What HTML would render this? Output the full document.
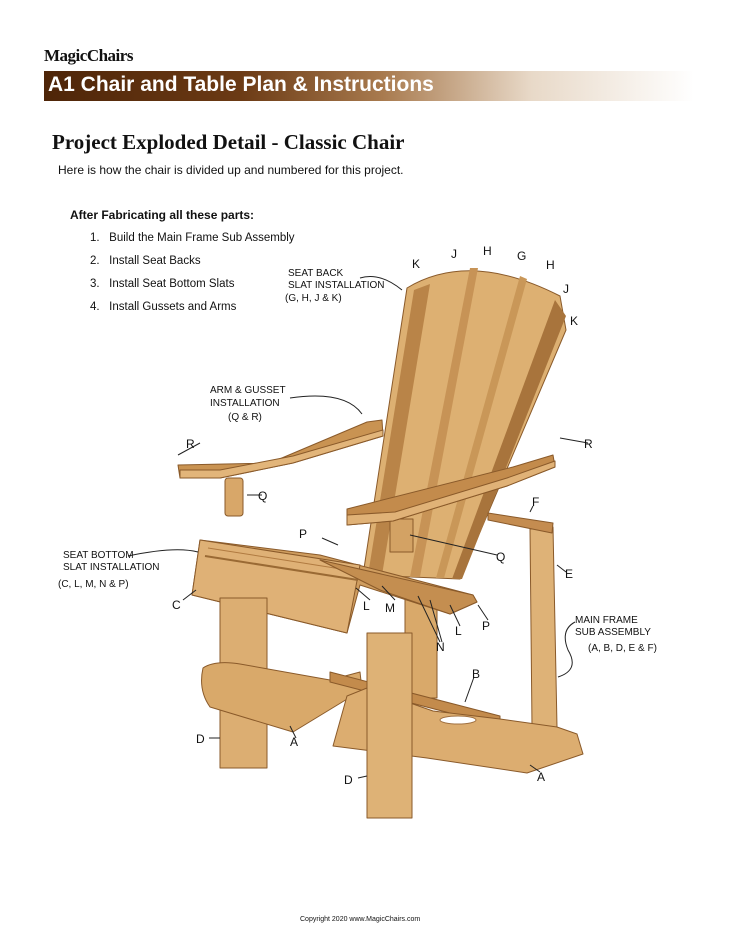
<!DOCTYPE html>
<html><head><meta charset="utf-8"><style>
body{margin:0;background:#fff;width:735px;height:952px;overflow:hidden;position:relative;font-family:"Liberation Sans",Arial,sans-serif}
.t{position:absolute;white-space:nowrap;color:#111}
</style></head><body>
<div class="t" style="left:44px;top:46px;font-family:'Liberation Serif',serif;font-weight:bold;font-size:17px;letter-spacing:-0.5px">MagicChairs</div>
<div style="position:absolute;left:44px;top:71px;width:650px;height:30px;background:linear-gradient(90deg,#4e2508 0%,#6b3a14 30%,#a87a4e 52%,#e8d9c8 75%,#fff 100%)"></div>
<div class="t" style="left:48px;top:73px;font-size:21px;color:#fff;font-weight:bold">A1 Chair and Table Plan &amp; Instructions</div>
<div class="t" style="left:52px;top:130px;font-family:'Liberation Serif',serif;font-weight:bold;font-size:21px">Project Exploded Detail - Classic Chair</div>
<div class="t" style="left:58px;top:163px;font-size:12px">Here is how the chair is divided up and numbered for this project.</div>
<div class="t" style="left:70px;top:208px;font-size:12px;font-weight:bold">After Fabricating all these parts:</div>
<div class="t" style="left:90px;top:232px;font-size:11.5px">1.&nbsp;&nbsp;&nbsp;Build the Main Frame Sub Assembly</div>
<div class="t" style="left:90px;top:255px;font-size:11.5px">2.&nbsp;&nbsp;&nbsp;Install Seat Backs</div>
<div class="t" style="left:90px;top:278px;font-size:11.5px">3.&nbsp;&nbsp;&nbsp;Install Seat Bottom Slats</div>
<div class="t" style="left:90px;top:301px;font-size:11.5px">4.&nbsp;&nbsp;&nbsp;Install Gussets and Arms</div>

<svg width="735" height="952" style="position:absolute;left:0;top:0" xmlns="http://www.w3.org/2000/svg">
<g stroke="#8a5a2a" stroke-width="1" stroke-linejoin="round">
<!-- back slats -->
<path d="M407,288 Q470,250 560,296 L566,330 L460,579 L363,575 Z" fill="#ddb072"/>
<path d="M414,290 L430,284 L382,575 L368,575 Z" fill="#b98448" stroke="none"/>
<path d="M470,268 L478,268 L420,577 L410,577 Z" fill="#c79356" stroke="none"/>
<path d="M520,276 L527,279 L444,578 L436,578 Z" fill="#c99758" stroke="none"/>
<path d="M555,300 L566,316 L462,579 L452,579 Z" fill="#a8743c" stroke="none"/>
<!-- back leg middle -->
<rect x="405" y="598" width="32" height="100" fill="#d9a96a"/>
<!-- E post -->
<path d="M530,529 L553,527 L557,727 L532,727 Z" fill="#deb277"/>
<path d="M488,513 L553,523 L552,533 L488,520 Z" fill="#c48c50"/>
<!-- left arm -->
<path d="M178,465 L270,463 L367,422 L382,420 L383,436 L293,463 L220,478 L180,478 Z" fill="#c99352"/>
<path d="M180,470 L220,470 L293,456 L383,430 L383,436 L293,463 L220,478 L180,478 Z" fill="#e2b57a"/>
<rect x="225" y="478" width="18" height="38" rx="3" fill="#d8a769"/>
<!-- right arm -->
<rect x="390" y="519" width="23" height="33" fill="#d3a264"/>
<path d="M347,509 L513,467 L553,455 L555,467 L507,486 L393,521 L347,525 Z" fill="#c38b4c"/>
<path d="M347,515 L395,512 L507,478 L555,461 L555,467 L507,486 L393,521 L347,525 Z" fill="#e0b277"/>
<!-- seat slats -->
<path d="M200,540 L320,555 L473,595 L477,602 L450,614 L360,585 L347,633 L192,595 Z" fill="#cf9d5f"/>
<path d="M200,540 L360,565 L347,633 L192,595 Z" fill="#dfb176"/>
<path d="M205,556 L358,580" stroke="#9a6a34" fill="none" stroke-width="2"/>
<path d="M208,548 L360,572" stroke="#b07a40" fill="none"/>
<path d="M320,560 L473,595 L477,602 L450,614 L380,590 Z" fill="#c48e50"/>
<!-- left D leg -->
<rect x="220" y="598" width="47" height="170" fill="#dcae72"/>
<!-- left A -->
<path d="M203,668 Q215,660 240,664 L330,680 L360,672 L362,690 L293,732 L210,707 Q198,690 203,668 Z" fill="#d9a96a"/>
<!-- B crossbar -->
<path d="M330,672 L500,716 L500,726 L330,682 Z" fill="#c38b4c"/>
<!-- right A -->
<path d="M333,746 L347,696 L367,688 L433,711 L500,719 L557,727 L577,734 L583,754 L527,773 L427,758 Z" fill="#dcad70"/>
<ellipse cx="458" cy="720" rx="18" ry="4" fill="#fff" stroke="#a07040"/>
<!-- front D -->
<rect x="367" y="633" width="45" height="185" fill="#deb276"/>
</g>
<g fill="none" stroke="#222" stroke-width="1">
<path d="M360,278 Q380,272 402,290"/>
<path d="M290,398 Q345,390 362,414"/>
<path d="M128,556 Q175,546 198,552"/>
<path d="M183,600 L196,590"/>
<path d="M200,443 L178,455 M560,438 L588,443 M247,495 L262,495 M410,535 L497,555 M533,506 L530,512 M322,538 L338,545 M557,565 L566,572"/>
<path d="M370,600 L356,588 M395,600 L382,586 M460,626 L450,605 M488,620 L478,605 M442,642 L430,600 M440,642 L418,596"/>
<path d="M575,622 Q560,630 568,650 Q580,670 558,677"/>
<path d="M474,677 L465,702 M209,738 L220,738 M296,738 L290,726 M358,778 L367,776 M540,772 L530,765"/>
</g>
<g font-family="Liberation Sans, Arial, sans-serif" font-size="12" fill="#111">
<text x="412" y="268">K</text><text x="451" y="258">J</text><text x="483" y="255">H</text><text x="517" y="260">G</text><text x="546" y="269">H</text><text x="563" y="293">J</text><text x="570" y="325">K</text>
<text x="186" y="448">R</text><text x="258" y="500">Q</text><text x="584" y="448">R</text><text x="532" y="506">F</text><text x="496" y="561">Q</text><text x="565" y="578">E</text>
<text x="299" y="538">P</text><text x="172" y="609">C</text><text x="363" y="610">L</text><text x="385" y="612">M</text><text x="455" y="635">L</text><text x="482" y="630">P</text><text x="436" y="651">N</text>
<text x="472" y="678">B</text><text x="196" y="743">D</text><text x="290" y="746">A</text><text x="344" y="784">D</text><text x="537" y="781">A</text>
</g>
<g font-family="Liberation Sans, Arial, sans-serif" font-size="10" fill="#111">
<text x="288" y="276">SEAT BACK</text><text x="288" y="288">SLAT INSTALLATION</text><text x="285" y="301">(G, H, J &amp; K)</text>
<text x="210" y="393">ARM &amp; GUSSET</text><text x="210" y="406">INSTALLATION</text><text x="228" y="420">(Q &amp; R)</text>
<text x="63" y="558">SEAT BOTTOM</text><text x="63" y="570">SLAT INSTALLATION</text><text x="58" y="587">(C, L, M, N &amp; P)</text>
<text x="575" y="623">MAIN FRAME</text><text x="575" y="635">SUB ASSEMBLY</text><text x="588" y="651">(A, B, D, E &amp; F)</text>
</g>
<text x="300" y="921" font-family="Liberation Sans, Arial, sans-serif" font-size="7" fill="#111">Copyright 2020  www.MagicChairs.com</text>
</svg>
</body></html>
